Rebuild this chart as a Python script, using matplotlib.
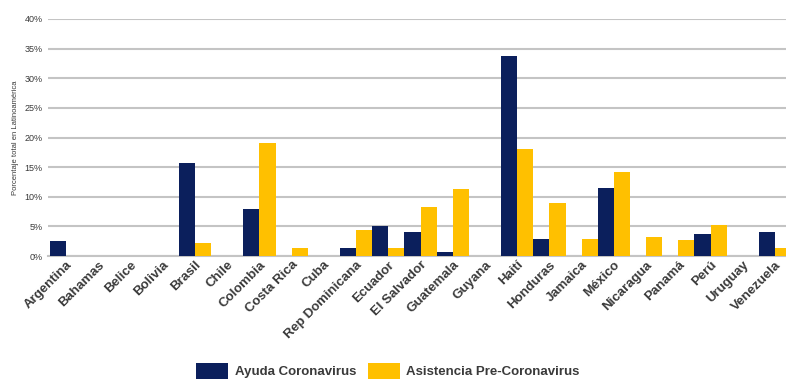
import numpy as np
import matplotlib
matplotlib.use("Agg")
import matplotlib.pyplot as plt
from matplotlib.ticker import FuncFormatter

countries = [
    "Argentina", "Bahamas", "Belice", "Bolivia", "Brasil", "Chile",
    "Colombia", "Costa Rica", "Cuba", "Rep Dominicana", "Ecuador",
    "El Salvador", "Guatemala", "Guyana", "Haití", "Honduras", "Jamaica",
    "México", "Nicaragua", "Panamá", "Perú", "Uruguay", "Venezuela",
]
ayuda_coronavirus = [
    2.5, 0, 0, 0, 15.7, 0, 7.9, 0, 0, 1.3, 5.1, 4.1, 0.7, 0,
    33.7, 2.9, 0, 11.5, 0, 0, 3.7, 0, 4.1,
]
asistencia_pre = [
    0, 0, 0, 0, 2.2, 0, 19.1, 1.3, 0, 4.4, 1.3, 8.3, 11.3, 0,
    18.0, 8.9, 2.9, 14.2, 3.2, 2.7, 5.2, 0, 1.3,
]
y_ticks = [0, 5, 10, 15, 20, 25, 30, 35, 40]

NAVY = "#0b1f5c"
GOLD = "#ffc000"
TEXT = "#3a3a3a"

plt.rcParams["font.family"] = ["Liberation Sans", "DejaVu Sans"]

fig = plt.figure(figsize=(7.86, 3.81), dpi=100)
ax = fig.add_axes([48 / 786, 125 / 381, 738 / 786, 237 / 381])

x = np.arange(len(countries))
width = 0.5
ax.bar(x - width / 2, ayuda_coronavirus, width, color=NAVY,
       label="Ayuda Coronavirus", zorder=3)
ax.bar(x + width / 2, asistencia_pre, width, color=GOLD,
       label="Asistencia Pre-Coronavirus", zorder=3)

ax.set_xlim(-0.56, len(countries) - 1 + 0.34)
ax.set_ylim(0, 40)
ax.set_yticks(y_ticks)
ax.yaxis.set_major_formatter(FuncFormatter(lambda v, _: f"{v:.0f}%"))
ax.tick_params(axis="y", length=0, labelsize=6.5, labelcolor=TEXT, pad=4)
ax.grid(axis="y", color="#c4c4c4", linewidth=1.5, zorder=0)
for side in ["top", "right", "left"]:
    ax.spines[side].set_visible(False)
ax.spines["bottom"].set_color("#c4c4c4")
ax.spines["bottom"].set_linewidth(1.5)

ax.set_xticks(x)
ax.set_xticklabels(countries, rotation=45, ha="right", rotation_mode="anchor",
                   fontsize=9.5, fontweight="bold", color=TEXT)
ax.tick_params(axis="x", length=0, pad=2)

ax.set_ylabel("Porcentaje total en Latinoamérica", fontsize=5.5, color=TEXT,
              labelpad=4)

legend = fig.legend(loc="center", bbox_to_anchor=(388 / 786, 10 / 381),
                    ncol=2, frameon=False, fontsize=9.5, handlelength=2.4,
                    handleheight=1.5, columnspacing=0.9, handletextpad=0.5)
for text in legend.get_texts():
    text.set_color(TEXT)
    text.set_fontweight("bold")

fig.savefig("out.png", dpi=100)
